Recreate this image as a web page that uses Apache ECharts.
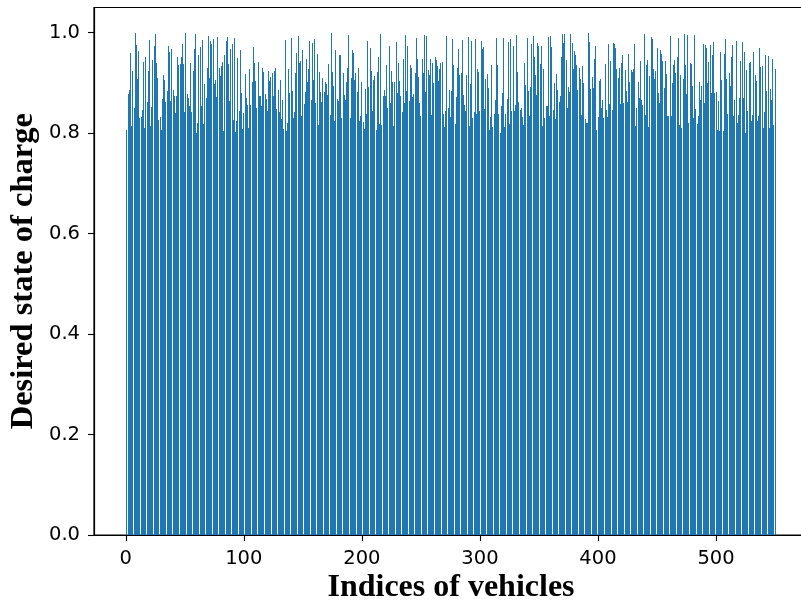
<!DOCTYPE html>
<html>
<head>
<meta charset="utf-8">
<script src="https://cdn.jsdelivr.net/npm/echarts@6/dist/echarts.min.js"></script>
<style>
  html, body { margin: 0; padding: 0; background: #ffffff; }
  #chart { width: 801px; height: 604px; }
</style>
</head>
<body>
<div id="chart"></div>
<script>
// Desired state of charge for each vehicle (vehicle indices start at 1)
const socVehicles1to67 = [
  0.806, 0.878, 0.886, 0.960, 0.814, 0.924, 0.850, 1.000, 0.976, 0.908,
  0.964, 0.830, 0.832, 0.846, 0.942, 0.810, 0.952, 0.862, 0.924, 0.986,
  0.814, 0.852, 0.946, 0.974, 0.998, 0.940, 0.910, 0.826, 0.832, 0.806,
  0.868, 0.916, 0.906, 0.862, 0.884, 0.974, 0.962, 0.864, 0.968, 0.886,
  0.874, 0.840, 0.874, 0.952, 0.936, 0.938, 0.952, 0.978, 0.938, 0.842,
  1.000, 0.878, 0.870, 0.854, 0.940, 0.842, 0.924, 0.968, 0.998, 0.800,
  0.820, 0.956, 0.972, 0.854, 0.986, 0.818, 0.898
];
const socVehicles68to138 = [
  0.870, 0.930, 0.994, 0.910, 0.984, 0.978, 0.988, 0.898, 0.906, 0.872,
  0.992, 0.930, 0.914, 0.934, 0.942, 0.804, 0.956, 0.984, 0.992, 0.938,
  0.864, 0.968, 0.978, 0.826, 0.990, 0.802, 0.824, 0.950, 0.844, 0.966,
  0.880, 0.808, 0.840, 0.918, 0.870, 0.856, 0.810, 0.928, 0.856, 0.902,
  0.972, 0.940, 0.904, 0.850, 0.942, 0.874, 0.874, 0.854, 0.930, 0.922,
  0.878, 0.868, 0.844, 0.924, 0.904, 0.912, 0.920, 0.874, 0.924, 0.930,
  0.848, 0.886, 0.842, 0.906, 0.828, 0.865, 0.808, 0.986, 0.804, 0.820,
  0.928
];
const socVehicles139to299 = [
  0.880, 0.990, 0.884, 0.830, 0.842, 0.920, 0.960, 0.994, 0.940, 0.944,
  0.834, 0.966, 0.858, 0.882, 0.948, 0.902, 0.928, 0.984, 0.866, 0.980,
  0.906, 0.988, 0.860, 0.958, 0.816, 0.922, 0.882, 0.862, 0.910, 0.882,
  0.902, 0.898, 0.876, 0.938, 0.836, 1.000, 0.922, 0.894, 0.824, 0.966,
  0.868, 0.864, 0.956, 0.956, 0.830, 0.920, 0.876, 0.866, 0.902, 0.930,
  0.996, 0.830, 0.910, 0.966, 0.960, 0.906, 0.920, 0.882, 0.930, 0.824,
  0.834, 0.902, 0.822, 0.808, 0.888, 0.838, 0.984, 0.892, 0.970, 0.924,
  0.844, 0.906, 0.914, 0.806, 0.922, 0.952, 0.818, 0.998, 0.816, 0.874,
  0.886, 0.874, 0.936, 0.850, 0.974, 0.860, 0.924, 0.902, 0.814, 0.902,
  0.982, 0.880, 0.940, 0.904, 0.874, 0.842, 0.948, 0.860, 0.996, 0.884,
  0.974, 0.864, 0.936, 0.930, 0.872, 0.878, 0.920, 0.990, 0.948, 0.912,
  0.860, 0.834, 0.948, 0.920, 0.996, 0.882, 0.994, 0.926, 0.916, 0.948,
  0.836, 0.940, 0.900, 0.952, 0.946, 0.934, 0.904, 0.928, 0.940, 0.942,
  0.838, 0.812, 0.844, 0.994, 0.850, 0.886, 0.832, 0.884, 0.988, 0.936,
  0.818, 0.872, 0.930, 0.968, 0.916, 0.920, 0.986, 0.876, 0.856, 0.844,
  0.916, 0.992, 0.814, 0.898, 0.984, 0.830, 0.842, 0.988, 0.838, 0.928,
  0.922
];
const socVehicles300to460 = [
  0.844, 0.984, 0.968, 0.972, 0.848, 0.908, 0.918, 0.890, 0.806, 0.832,
  0.936, 0.812, 0.838, 0.866, 0.990, 0.936, 0.838, 0.800, 0.854, 0.880,
  0.990, 0.812, 0.838, 0.868, 0.982, 0.818, 0.988, 0.844, 0.974, 0.844,
  0.856, 0.996, 0.922, 0.862, 0.846, 0.850, 0.832, 0.816, 0.940, 0.896,
  0.990, 0.884, 0.834, 0.892, 0.978, 0.994, 0.952, 0.916, 0.876, 0.980,
  0.974, 0.938, 0.974, 0.814, 0.928, 0.830, 0.854, 0.854, 0.992, 0.834,
  0.994, 0.972, 0.846, 0.900, 0.828, 0.918, 0.886, 0.862, 0.874, 0.952,
  0.998, 0.980, 0.998, 0.946, 0.850, 0.892, 0.882, 0.998, 0.980, 0.928,
  0.964, 0.956, 0.936, 0.886, 0.930, 0.908, 0.836, 0.934, 0.900, 0.828,
  0.820, 0.820, 1.000, 0.982, 0.888, 0.912, 0.890, 0.948, 0.974, 0.806,
  0.832, 0.904, 0.908, 0.850, 0.866, 0.830, 0.938, 0.846, 0.832, 0.978,
  0.858, 0.944, 0.846, 0.980, 0.978, 0.970, 0.928, 0.910, 0.930, 0.858,
  0.940, 0.956, 0.860, 0.926, 0.884, 0.862, 0.958, 0.902, 0.926, 0.922,
  0.928, 0.978, 0.814, 0.850, 0.902, 0.870, 0.944, 0.866, 0.856, 0.998,
  0.836, 0.936, 0.946, 0.812, 0.914, 0.992, 0.988, 0.928, 0.908, 0.924,
  0.970, 0.880, 0.860, 0.966, 0.958, 0.944, 0.890, 0.944, 0.918, 0.834,
  0.834
];
const socVehicles461to550 = [
  0.994, 0.834, 0.900, 0.936, 0.946, 0.920, 0.952, 0.990, 0.816, 0.916,
  0.810, 0.908, 0.998, 0.936, 0.878, 0.996, 0.820, 0.940, 0.938, 0.894,
  0.830, 0.996, 0.848, 0.818, 0.834, 0.902, 0.866, 0.894, 0.978, 0.860,
  0.976, 0.970, 0.900, 0.942, 0.976, 0.880, 0.956, 0.982, 0.880, 0.882,
  0.806, 0.864, 0.804, 0.962, 0.906, 0.804, 0.958, 0.988, 0.908, 0.838,
  0.920, 0.894, 0.952, 0.976, 0.834, 0.866, 0.984, 0.820, 0.836, 0.870,
  0.944, 0.982, 0.870, 0.962, 0.800, 0.926, 0.844, 0.940, 0.942, 0.824,
  0.836, 0.962, 0.916, 0.904, 0.824, 0.834, 0.970, 0.932, 0.934, 0.810,
  0.842, 0.956, 0.884, 0.954, 0.810, 0.888, 0.866, 0.948, 0.816, 0.928
];
const desiredSoc = [].concat(
  socVehicles1to67, socVehicles68to138, socVehicles139to299,
  socVehicles300to460, socVehicles461to550
);

const xTickValues = [0, 100, 200, 300, 400, 500];
const yTickValues = [0, 0.2, 0.4, 0.6, 0.8, 1.0];
const xExtent = [-26.9, 577.9];
const yExtent = [0, 1.05];

const BAR_WIDTH = 0.8;   // in index units
const BAR_COLOR = '#1f77b4';

const barData = desiredSoc.map((v, i) => [i + 1, v]);

// Draw each bar snapped to whole pixels so thin bars stay crisp
function renderBar(params, api) {
  const idx = api.value(0);
  const soc = api.value(1);
  const topLeft = api.coord([idx - BAR_WIDTH / 2, soc]);
  const bottomRight = api.coord([idx + BAR_WIDTH / 2, 0]);
  const x0 = Math.round(topLeft[0]);
  let x1 = Math.round(bottomRight[0]);
  if (x1 <= x0) x1 = x0 + 1;
  const y0 = Math.round(topLeft[1]);
  const y1 = bottomRight[1];
  return {
    type: 'rect',
    shape: { x: x0, y: y0, width: x1 - x0, height: y1 - y0 },
    style: { fill: BAR_COLOR }
  };
}

const tickFont = { fontFamily: 'DejaVu Sans', fontSize: 19.5, color: '#000000' };
const xTitleFont = { fontFamily: 'Liberation Serif', fontWeight: 'bold', fontSize: 32, color: '#000000' };
const yTitleFont = { fontFamily: 'Liberation Serif', fontWeight: 'bold', fontSize: 32.5, color: '#000000' };

const chart = echarts.init(document.getElementById('chart'), null, { renderer: 'canvas' });
chart.setOption({
  animation: false,
  backgroundColor: '#ffffff',
  grid: {
    left: 94, right: -7, top: 7.5, bottom: 69,
    outerBoundsMode: 'none',
    containLabel: false,
    show: true, borderColor: '#000000', borderWidth: 1.2, backgroundColor: 'transparent'
  },
  xAxis: {
    type: 'value',
    min: xExtent[0], max: xExtent[1],
    name: 'Indices of vehicles',
    nameLocation: 'middle', nameGap: 37, nameMoveOverlap: false,
    nameTextStyle: xTitleFont,
    axisLine: { show: true, onZero: false, lineStyle: { color: '#000000', width: 1.2 } },
    axisTick: { show: true, length: 6, customValues: xTickValues, lineStyle: { color: '#000000', width: 1.1 } },
    axisLabel: Object.assign({ customValues: xTickValues, margin: 14, formatter: v => String(v) }, tickFont),
    splitLine: { show: false }
  },
  yAxis: {
    type: 'value',
    min: yExtent[0], max: yExtent[1],
    name: 'Desired state of charge',
    nameLocation: 'middle', nameGap: 54, nameRotate: 90, nameMoveOverlap: false,
    nameTextStyle: yTitleFont,
    axisLine: { show: true, onZero: false, lineStyle: { color: '#000000', width: 1.2 } },
    axisTick: { show: true, length: 6, customValues: yTickValues, lineStyle: { color: '#000000', width: 1.1 } },
    axisLabel: Object.assign({ customValues: yTickValues, margin: 14, formatter: v => v.toFixed(1) }, tickFont),
    splitLine: { show: false }
  },
  series: [{
    type: 'custom',
    data: barData,
    encode: { x: 0, y: 1 },
    renderItem: renderBar,
    clip: true,
    silent: true
  }]
});
</script>
</body>
</html>
